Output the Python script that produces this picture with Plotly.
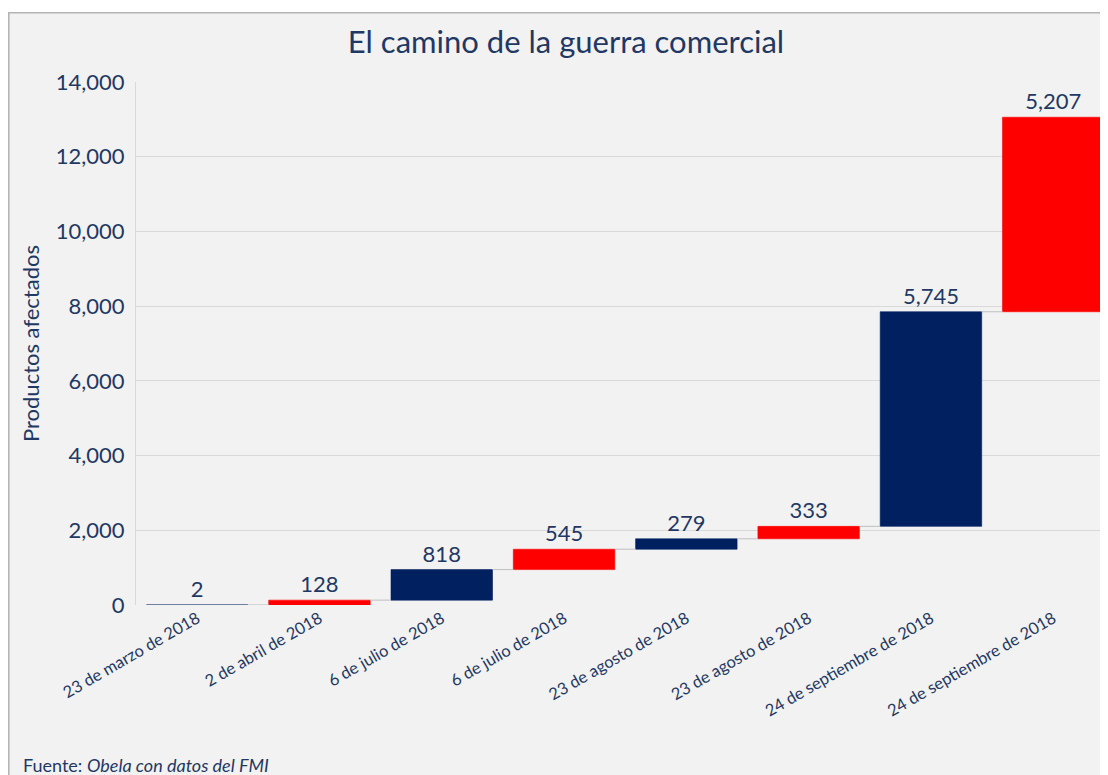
import plotly.graph_objects as go
import numpy as np

categories = ["23 de marzo de 2018", "2 de abril de 2018", "6 de julio de 2018",
              "6 de julio de 2018", "23 de agosto de 2018", "23 de agosto de 2018",
              "24 de septiembre de 2018", "24 de septiembre de 2018"]
values = [2, 128, 818, 545, 279, 333, 5745, 5207]
bar_colors = ["#002060", "#ff0000", "#002060", "#ff0000",
              "#002060", "#ff0000", "#002060", "#ff0000"]
y_ticks = [0, 2000, 4000, 6000, 8000, 10000, 12000, 14000]

NAVY = "#1f3864"
FONT = "Lato, 'Open Sans', sans-serif"

vals = np.array(values)
cum = np.cumsum(vals)
base = cum - vals
idx = list(range(len(categories)))
bw = 0.83

fig = go.Figure()
# connectors
for i in range(len(values) - 1):
    fig.add_trace(go.Scatter(x=[i + bw / 2, i + 1 - bw / 2], y=[cum[i], cum[i]],
                             mode="lines", line=dict(color="#bfbfbf", width=1),
                             hoverinfo="skip", showlegend=False))
fig.add_trace(go.Bar(
    x=idx, y=values, base=base, width=bw,
    marker=dict(color=bar_colors, line=dict(color=bar_colors, width=0.6)),
    text=[f"{v:,}" for v in values], textposition="outside",
    textfont=dict(color=NAVY, size=22, family=FONT),
    cliponaxis=False, showlegend=False))

# page has an 8px body margin; figure coords = reference coords - 8
OFF = 8
W, H = 1108 - OFF, 775 - OFF
L, R, T = 136 - OFF, 0, 82 - OFF
B = H - (605 - OFF)
pw, ph = W - L - R, H - T - B

def px2x(px):
    return (px - OFF - L) / pw

def py2y(py):
    return (H - B - (py - OFF)) / ph

fig.add_shape(type="rect", xref="paper", yref="paper",
              x0=px2x(8.8), x1=px2x(1140), y0=py2y(820), y1=py2y(12.8),
              fillcolor="#f2f2f2", line=dict(color="#b4b4b4", width=1.6), layer="below")

fig.update_layout(
    width=W, height=H,
    margin=dict(l=L, r=R, t=T, b=B),
    paper_bgcolor="white", plot_bgcolor="rgba(0,0,0,0)",
    font=dict(family=FONT, color=NAVY),
    title=dict(text="El camino de la guerra comercial", x=px2x(566), xref="paper",
               xanchor="center", y=1 - (42 - OFF) / H, yanchor="middle",
               font=dict(size=31, color=NAVY, family=FONT)),
    xaxis=dict(tickmode="array", tickvals=idx, ticktext=categories,
               range=[-0.5, -0.5 + pw / 122.3], tickangle=-30,
               tickfont=dict(size=16.5, color=NAVY), showgrid=False,
               showline=False, zeroline=False, ticks=""),
    yaxis=dict(range=[0, 14000], tickvals=y_ticks, tickformat=",",
               tickfont=dict(size=22, color=NAVY), gridcolor="#d9d9d9",
               gridwidth=1, zeroline=False, showline=True, linecolor="#d9d9d9",
               linewidth=1, ticks="", ticklen=0, ticklabelstandoff=6,
               title=dict(text="Productos afectados", font=dict(size=22, color=NAVY),
                          standoff=10)),
    annotations=[dict(text="Fuente: <i>Obela con datos del FMI</i>", xref="paper", yref="paper",
                      x=px2x(21), y=py2y(765), xanchor="left", yanchor="middle",
                      showarrow=False, font=dict(size=18, color=NAVY, family=FONT))],
)

fig.write_html("out.html")
